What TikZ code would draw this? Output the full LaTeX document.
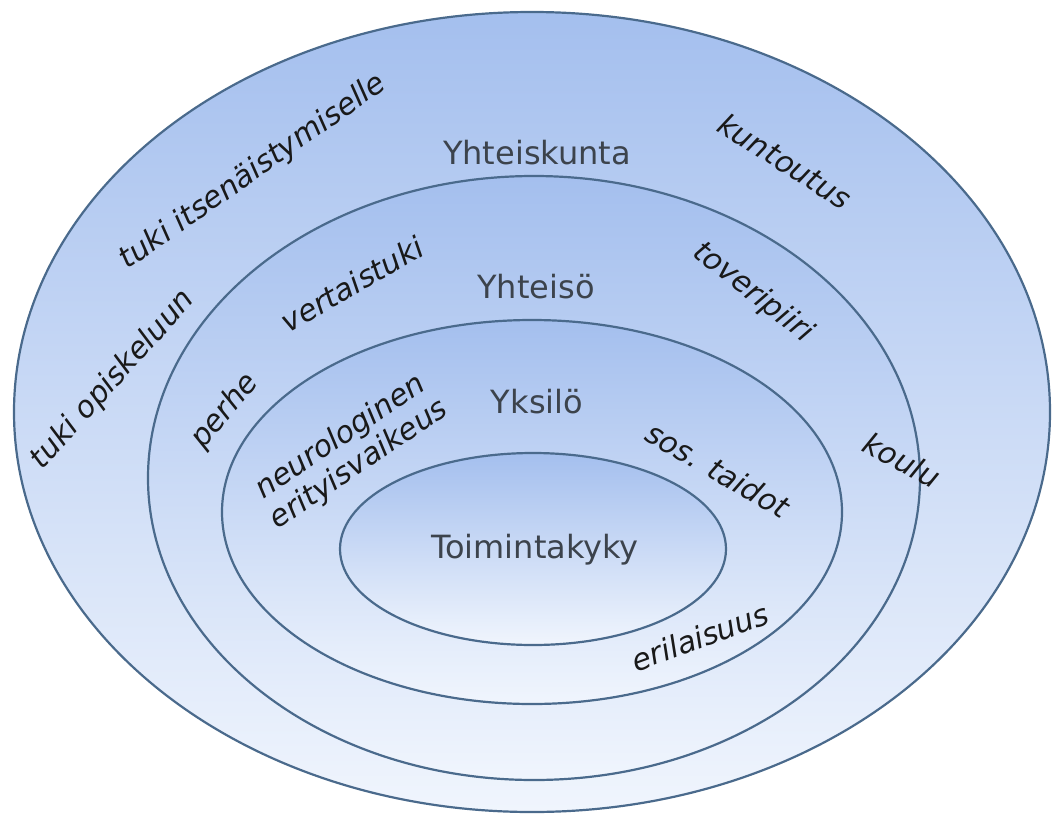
\documentclass[tikz,border=0pt]{standalone}
\usepackage{fontspec}
\setmainfont{DejaVu Sans}
\usetikzlibrary{shapes.geometric}
\definecolor{ringtop}{HTML}{A4BFEE}
\definecolor{ringbot}{HTML}{F0F5FD}
\definecolor{ringline}{HTML}{4A6A8C}
\definecolor{levelgray}{HTML}{3C434C}
\begin{document}
\begin{tikzpicture}
[
    x=1pt, y=-1pt,
    ring/.style={ellipse, draw=ringline, line width=2.2pt, inner sep=0pt,
        top color=ringtop, bottom color=ringbot},
    level/.style={text=levelgray, font=\fontsize{32}{36}\selectfont},
    factor/.style={text=black!90, font=\itshape\fontsize{30}{33}\selectfont, align=center},
]
\useasboundingbox (0,0) rectangle (1054,819);
\node [ring, minimum width=1036pt, minimum height=800pt] (society) at (532,412) {};
\node [ring, minimum width=772pt, minimum height=604pt] (community) at (534,478) {};
\node [ring, minimum width=620pt, minimum height=384pt] (individual) at (532,512) {};
\node [ring, minimum width=386pt, minimum height=192pt] (ability) at (533,549) {};
\node [level] (societylabel) at (537,153) {Yhteiskunta};
\node [level] (communitylabel) at (536,287) {Yhteisö};
\node [level] (individuallabel) at (537,402) {Yksilö};
\node [level] (abilitylabel) at (535,550) {Toimintakyky};
\node [factor, rotate=35] (independence) at (253,172) {tuki itsenäistymiselle};
\node [factor, rotate=48] (studies) at (113,380) {tuki opiskeluun};
\node [factor, rotate=-32] (rehab) at (785,161) {kuntoutus};
\node [factor, rotate=30] (peers) at (352,284) {vertaistuki};
\node [factor, rotate=-38] (friends) at (753,293) {toveripiiri};
\node [factor, rotate=50] (family) at (225,411) {perhe};
\node [factor, rotate=34] (neuro) at (350,451) {neurologinen\\erityisvaikeus};
\node [factor, rotate=-30] (social) at (718,470) {sos. taidot};
\node [factor, rotate=-28] (school) at (902,460) {koulu};
\node [factor, rotate=20] (difference) at (700,637) {erilaisuus};
\end{tikzpicture}
\end{document}
